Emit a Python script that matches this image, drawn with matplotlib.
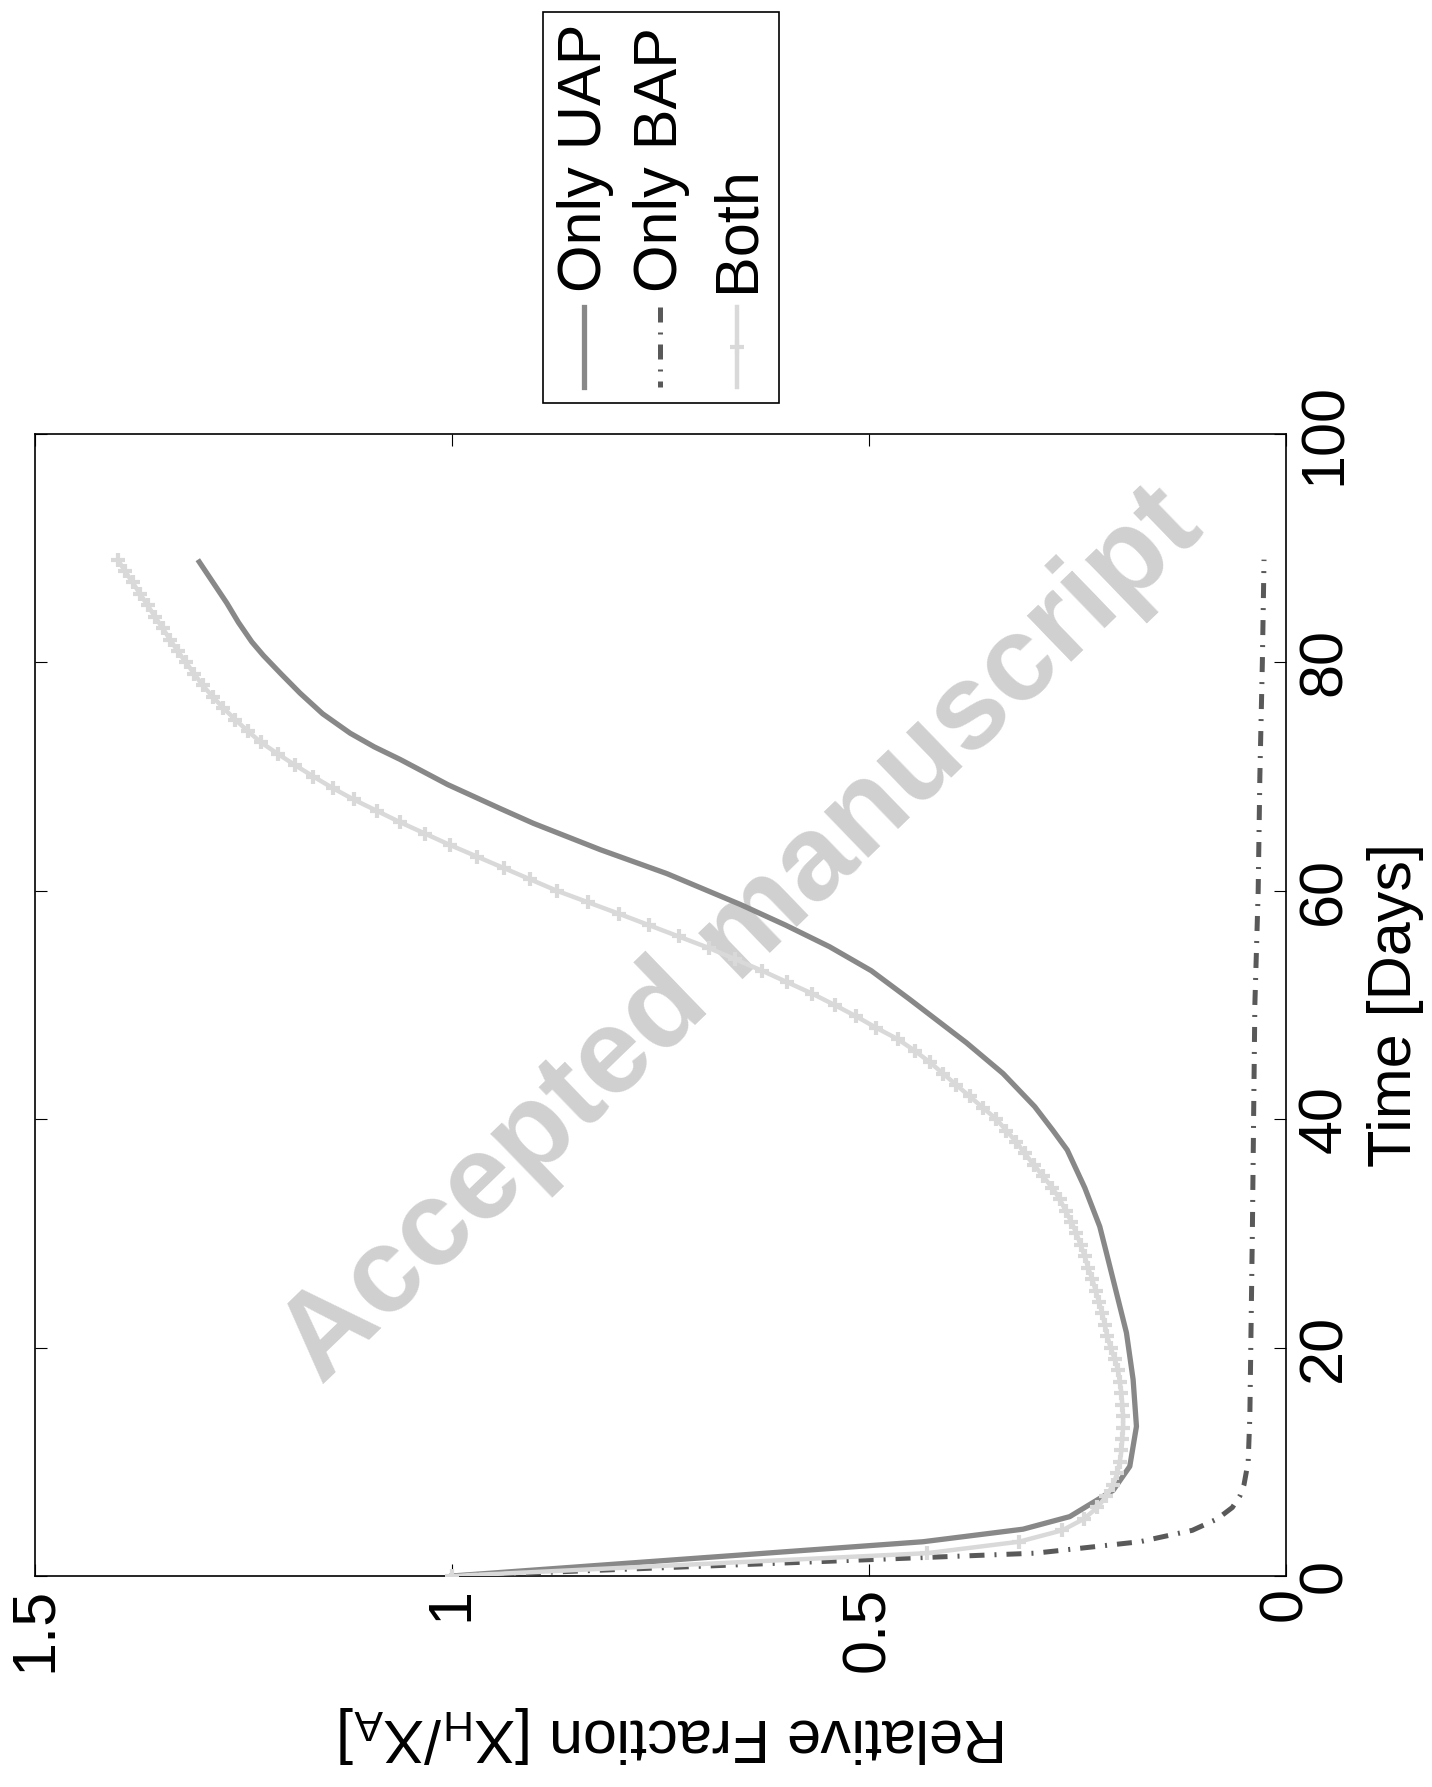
import matplotlib
matplotlib.use("Agg")
import matplotlib.pyplot as plt
from matplotlib.lines import Line2D
from matplotlib.patches import Rectangle

plt.rcParams['font.family'] = ['Liberation Sans', 'DejaVu Sans']
plt.rcParams['mathtext.fontset'] = 'custom'
plt.rcParams['mathtext.rm'] = 'Liberation Sans'
plt.rcParams['mathtext.it'] = 'Liberation Sans:italic'

# relative fraction X_H/X_A over time (days)
uap_days = [0, 3, 4.1, 5.2, 7.5, 9.6, 13.1, 17.2, 21.3, 28.3, 30.6, 34, 37.3, 39, 41.1, 44,
            46.7, 50.5, 53, 55.1, 57, 58.8, 61.5, 63.6, 65.9, 67.2, 69.3, 71.5, 72.6, 73.8,
            75.5, 77.3, 79, 80.6, 81.8, 83.5, 85.2, 88.8]
uap_frac = [1.0, 0.435, 0.315, 0.259, 0.207, 0.187, 0.179, 0.183, 0.191, 0.215, 0.223,
            0.241, 0.262, 0.279, 0.301, 0.339, 0.383, 0.451, 0.497, 0.547, 0.600, 0.654,
            0.742, 0.822, 0.902, 0.942, 1.005, 1.062, 1.093, 1.122, 1.155, 1.182, 1.205,
            1.226, 1.240, 1.256, 1.270, 1.303]

bap_days = [0, 1, 2, 3, 4, 5, 6, 7, 8, 10, 14, 30, 50, 60, 70, 80, 89]
bap_frac = [1.0, 0.65, 0.30, 0.175, 0.112, 0.082, 0.064, 0.055, 0.050, 0.045, 0.043,
            0.040, 0.037, 0.033, 0.031, 0.028, 0.026]

both_days = [0, 2, 3, 4, 5, 6, 7, 8, 9, 10, 11, 12, 13, 14, 15, 16, 17, 18, 19, 20,
             21, 22, 23, 24, 25, 26, 27, 28, 29, 30, 31, 32, 33, 34, 35, 36, 37, 38, 39,
             40, 41, 42, 43, 44, 45, 46, 47, 48, 49, 50, 51, 52, 53, 54, 55, 56, 57, 58,
             59, 60, 61, 62, 63, 64, 65, 66, 67, 68, 69, 70, 71, 72, 73, 74, 75, 76, 77,
             78, 79, 80, 81, 82, 83, 84, 85, 86, 87, 88, 89]
both_frac = [1.000, 0.430, 0.320, 0.268, 0.242, 0.226, 0.215, 0.207, 0.202, 0.199,
             0.197, 0.196, 0.195, 0.195, 0.196, 0.197, 0.199, 0.201, 0.205, 0.210,
             0.214, 0.217, 0.220, 0.224, 0.228, 0.232, 0.237, 0.241, 0.246, 0.251,
             0.257, 0.264, 0.271, 0.280, 0.291, 0.302, 0.313, 0.323, 0.335, 0.347,
             0.363, 0.379, 0.395, 0.411, 0.427, 0.445, 0.465, 0.491, 0.515, 0.541,
             0.568, 0.598, 0.628, 0.660, 0.692, 0.728, 0.764, 0.800, 0.837, 0.874,
             0.906, 0.938, 0.970, 1.002, 1.032, 1.062, 1.090, 1.118, 1.143, 1.166,
             1.188, 1.209, 1.229, 1.245, 1.260, 1.274, 1.287, 1.299, 1.309, 1.319,
             1.329, 1.338, 1.347, 1.356, 1.365, 1.374, 1.383, 1.392, 1.401]

series_labels = ['Only UAP', 'Only BAP', 'Both']
frac_ticks = [0, 0.5, 1, 1.5]
frac_ticklabels = ['0', '0.5', '1', '1.5']
day_ticks = [0, 20, 40, 60, 80, 100]
day_ticklabels = ['0', '20', '40', '60', '80', '100']

W, H = 1432, 1787
FS = 44
styles = [
    dict(color='#888888', lw=3.8, solid_joinstyle='round'),
    dict(color='#595959', lw=3.6, dashes=(3.0, 2.0, 0.4, 2.0)),
    dict(color='#d9d9d9', lw=3.2, marker='+', ms=10, mew=3),
]


def fx(px):
    return px / W


def fy(py):
    return 1 - py / H


fig = plt.figure(figsize=(W / 100, H / 100), dpi=100)
ax = fig.add_axes([fx(35), fy(1576), 1250.7 / W, 1142 / H])

# the page is turned: fraction runs right-to-left, time runs upward
ax.plot(uap_frac, uap_days, zorder=3, **styles[0])
ax.plot(bap_frac, bap_days, zorder=3, **styles[1])
ax.plot(both_frac, both_days, zorder=4, **styles[2])

ax.set_xlim(1.5, 0)
ax.set_ylim(0, 100)
ax.set_xticks(frac_ticks)
ax.set_xticklabels(frac_ticklabels, rotation=90)
ax.set_yticks(day_ticks)
ax.set_yticklabels(day_ticklabels)
ax.tick_params(axis='both', which='both', direction='in', length=8.6, width=0.8,
               top=True, bottom=True, left=True, right=True,
               labelleft=False, labelright=True, labelsize=FS, pad=8)
for tick in ax.yaxis.get_major_ticks():
    tick.label2.set_rotation(90)
    tick.label2.set_va('center')
for s in ax.spines.values():
    s.set_linewidth(1.2)

ax.set_xlabel(r'Relative Fraction [X$_{\mathrm{H}}$/X$_{\mathrm{A}}$]', fontsize=FS,
              rotation=180, va='center', ha='center')
ax.xaxis.set_label_coords(0.51, -0.139)
ax.yaxis.set_label_position('right')
ax.set_ylabel('Time [Days]', fontsize=FS, rotation=90)
ax.yaxis.label.set_va('center')
ax.yaxis.label.set_ha('center')
ax.yaxis.set_label_coords(1.088, 0.5)

ax.text(fx(742), fy(936), 'Accepted manuscript', transform=fig.transFigure,
        rotation=44, fontsize=87, fontweight='bold', color='#d0d0d0',
        ha='center', va='center', zorder=1)

# legend, turned with the rest of the page
fig.add_artist(Rectangle((fx(543), fy(403)), (779 - 543) / W, (403 - 12) / H,
                         transform=fig.transFigure, fill=False, lw=1.2,
                         edgecolor='black'))
for lx, label, st in zip([584, 660, 737], series_labels, styles):
    kw = dict(st)
    if 'marker' in kw:
        kw['markevery'] = [1]
    fig.add_artist(Line2D([fx(lx)] * 3, [fy(307), fy(347), fy(387)],
                          transform=fig.transFigure, **kw))
    fig.text(fx(lx + 1), fy(292), label, rotation=90, ha='center', va='bottom',
             fontsize=FS)

fig.savefig('out.png', dpi=100)
